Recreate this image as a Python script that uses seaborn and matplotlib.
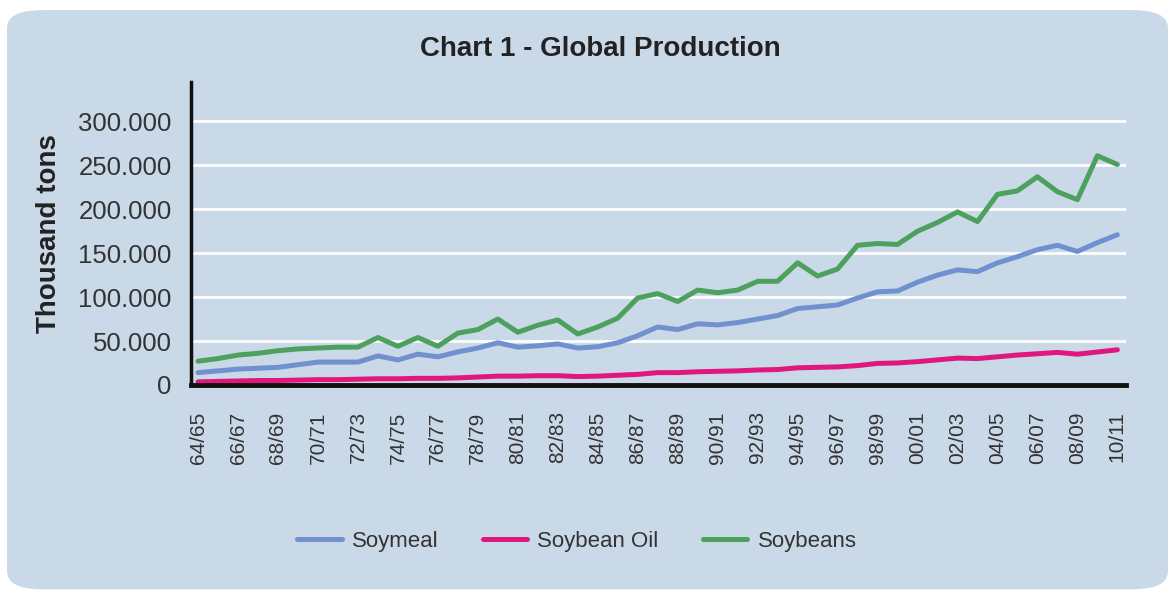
import numpy as np
import pandas as pd
import seaborn as sns
import matplotlib.pyplot as plt
from matplotlib.patches import FancyBboxPatch
from matplotlib.ticker import FuncFormatter

sns.set_style("white")
plt.rcParams['font.family'] = ['Liberation Sans', 'DejaVu Sans']

# seasons 64/65 .. 10/11
seasons = ["%02d/%02d" % (y % 100, (y + 1) % 100) for y in range(1964, 2011)]

# thousand tons
soymeal = [14, 16, 18, 19, 20, 23, 26, 26, 26, 33, 28.5, 35, 32, 37.6, 42, 48, 43, 44.5,
           46.7, 42, 43.5, 48, 56, 66, 63, 69.6, 68.4, 71, 75, 79, 87, 89, 91, 99, 106,
           107, 117, 125, 131, 129, 139, 146, 154, 159, 152, 162, 171]
soy_oil = [3.5, 4, 4.5, 5, 5, 5.5, 6, 6, 6.5, 7, 7, 7.5, 7.5, 8, 9, 10, 10, 10.5, 10.5,
           9.5, 10, 11, 12, 14, 14, 15, 15.5, 16, 17, 17.5, 19.5, 20, 20.5, 22, 24.5, 25,
           26.5, 28.5, 30.5, 30, 32, 34, 35.5, 37, 35, 37.5, 40]
soybeans = [27, 30, 34, 36, 39, 41, 42, 43, 43, 54, 44, 54, 44, 59, 63, 75, 60, 68, 74,
            58, 66, 76, 99, 104, 95, 108, 105, 108, 118, 118, 139, 124, 132, 159, 161,
            160, 175, 185, 197, 186, 217, 221, 237, 220, 211, 261, 251]

series = ["Soymeal", "Soybean Oil", "Soybeans"]
colors = ["#7090d0", "#e0187e", "#4ea05e"]

df = pd.DataFrame({
    "idx": list(range(len(seasons))) * 3,
    "value": np.array(soymeal + soy_oil + soybeans) * 1000,
    "series": [s for s in series for _ in seasons],
})

panel = "#c9d9e7"
fig = plt.figure(figsize=(11.75, 5.94), dpi=100)
fig.patch.set_facecolor("white")
fig.patches.append(FancyBboxPatch((0.006, 0.008), 0.988, 0.975,
                                  boxstyle="round,pad=0,rounding_size=0.03",
                                  transform=fig.transFigure, facecolor=panel,
                                  edgecolor="none", zorder=-10))

ax = fig.add_axes([0.1626, 0.352, 0.796, 0.51])
ax.set_facecolor(panel)
sns.lineplot(data=df, x="idx", y="value", hue="series", palette=colors,
             linewidth=3.6, sort=False, ax=ax, legend=True)

ax.set_xlim(-0.35, 46.45)
ax.set_ylim(0, 345000)
ax.set_yticks(np.arange(0, 300001, 50000))
ax.yaxis.set_major_formatter(FuncFormatter(lambda v, p: f"{v:,.0f}".replace(",", ".")))
ax.set_xticks(range(0, len(seasons), 2))
ax.set_xticklabels(seasons[::2], rotation=90, fontsize=15, color="#333333")
ax.tick_params(axis="y", labelsize=18.5, labelcolor="#333333", length=0, pad=14)
ax.tick_params(axis="x", length=0, pad=19)
ax.grid(axis="y", color="white", linewidth=2)
ax.set_axisbelow(True)
for s in ["top", "right"]:
    ax.spines[s].set_visible(False)
ax.spines["left"].set_linewidth(2.5)
ax.spines["bottom"].set_linewidth(3.5)
ax.spines["left"].set_color("#111111")
ax.spines["bottom"].set_color("#111111")

ax.set_xlabel("")
ax.set_ylabel("Thousand tons", fontsize=20, fontweight="bold", color="#222222", labelpad=12)
fig.text(0.511, 0.918, "Chart 1 - Global Production", ha="center", va="center",
         fontsize=20, fontweight="bold", color="#222222")

handles, labels = ax.get_legend_handles_labels()
ax.get_legend().remove()
fig.legend(handles, labels, loc="center", bbox_to_anchor=(0.491, 0.089), ncol=3,
           frameon=False, fontsize=16, handlelength=2.0, columnspacing=2.0,
           handletextpad=0.45, labelcolor="#333333")

fig.savefig("out.png", dpi=100, facecolor=fig.get_facecolor())
